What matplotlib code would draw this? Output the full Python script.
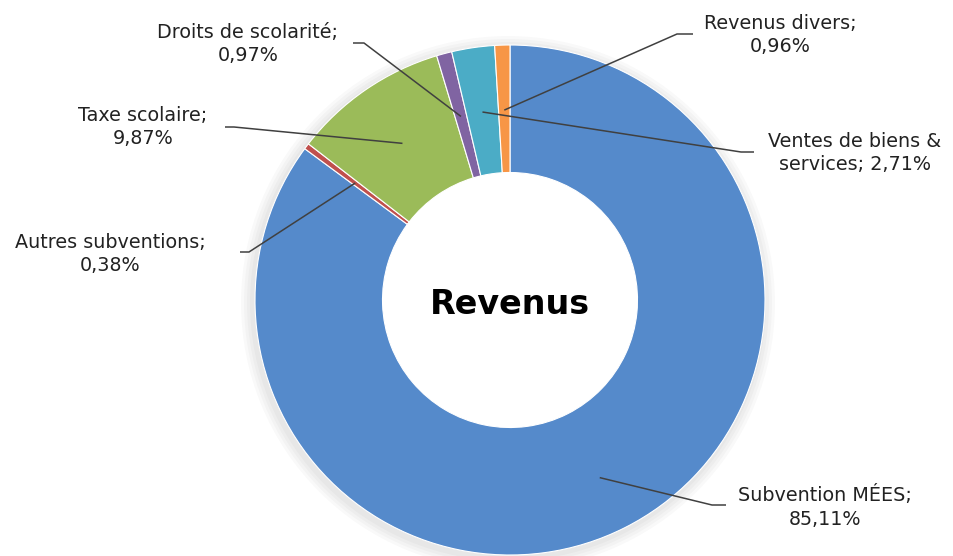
import numpy as np
import matplotlib.pyplot as plt

# data
labels = ["Subvention MÉES", "Autres subventions", "Taxe scolaire",
          "Droits de scolarité", "Ventes de biens &\nservices", "Revenus divers"]
values = [85.11, 0.38, 9.87, 0.97, 2.71, 0.96]
pct_text = ["85,11%", "0,38%", "9,87%", "0,97%", "2,71%", "0,96%"]
colors = ["#558ACB", "#C0504D", "#9BBB59", "#8064A2", "#4BACC6", "#F79646"]

W, H = 954, 556
fig = plt.figure(figsize=(W / 100, H / 100), dpi=100)
ax = fig.add_axes([0, 0, 1, 1])
ax.set_xlim(0, W)
ax.set_ylim(0, H)
ax.set_aspect("equal")
ax.axis("off")

cx, cy = 510, H - 300
R = 255
width = 0.5

# soft shadow around the outer edge of the ring
for i in range(4):
    rr = R + 3 + 3 * i
    ax.pie([1], radius=rr, center=(cx - 2, cy - 3), colors=["#000000"],
           wedgeprops=dict(width=rr - R * 0.6, alpha=0.025, linewidth=0))

wedges, _ = ax.pie(values, radius=R, center=(cx, cy), colors=colors,
                   startangle=90, counterclock=False,
                   explode=[0.008] * len(values),
                   wedgeprops=dict(width=R * width, edgecolor="white", linewidth=0.8))
ax.set_xlim(0, W)
ax.set_ylim(0, H)

# label positions (text centre), leader horizontal stub (x0, x1, y)
text_pos = [(825, 507), (110, 254), (143, 127), (248, 44), (855, 153), (780, 35)]
stubs = [(726, 712, 505), (240, 249, 252), (225, 234, 127), (353, 364, 43),
         (754, 741, 152), (693, 677, 34)]
r_mid = [199, 194, 190, 190, 190, 190]

for w, lab, p, (tx, ty), (s0, s1, sy), rm in zip(wedges, labels, pct_text,
                                                 text_pos, stubs, r_mid):
    ang = np.deg2rad((w.theta1 + w.theta2) / 2)
    px, py = cx + rm * np.cos(ang), cy + rm * np.sin(ang)
    if "\n" in lab:
        txt = lab + "; " + p
    else:
        txt = lab + ";\n" + p
    ax.text(tx, H - ty, txt, ha="center", va="center", fontsize=13.8,
            color="#222222", linespacing=1.3)
    ax.plot([s0, s1, px], [H - sy, H - sy, py], color="#404040", lw=1.1,
            solid_capstyle="butt")

ax.text(cx, H - 305, "Revenus", ha="center", va="center", fontsize=24,
        fontweight="bold", color="black")

fig.savefig("out.png", dpi=100, facecolor="white")
